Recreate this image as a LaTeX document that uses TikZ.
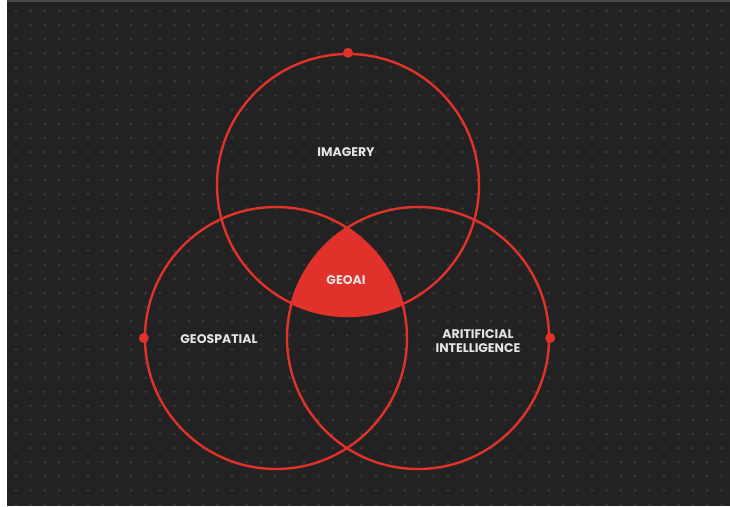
\documentclass[tikz,border=0pt]{standalone}
\usepackage{fontspec}
\setmainfont{Poppins}
\definecolor{board}{HTML}{222222}
\definecolor{boardedge}{HTML}{4A4A4A}
\definecolor{speck}{HTML}{383838}
\definecolor{geored}{HTML}{E0322A}
\definecolor{labeltext}{HTML}{E4E4E4}
\tikzset{
  ring/.style={circle, draw=geored, line width=2.4pt, minimum size=262pt, inner sep=0pt},
  knob/.style={circle, fill=geored, inner sep=0pt, minimum size=10pt},
  tag/.style={text=labeltext, font=\bfseries\fontsize{12.5}{14}\selectfont, align=center}
}
\begin{document}
\begin{tikzpicture}[x=1pt, y=-1pt]
    \useasboundingbox (0,0) rectangle (730,506);
    \fill[white] (0,0) rectangle (730,506);
    \fill[board] (7,0) rectangle (730,506);
    \fill[boardedge] (7,0) rectangle (730,2);
    % dotted backdrop
    \foreach \x in {16,30.4,...,730}
      \foreach \y in {11,25.1,...,506}
        \fill[speck] (\x,\y) circle (1.6pt);

    % shared middle part
    \begin{scope}
      \clip (348,185) circle (131pt);
      \clip (276,338) circle (131pt);
      \fill[geored] (418,338) circle (131pt);
    \end{scope}

    \node[ring] (imagery) at (348,185) {};
    \node[ring] (geospatial) at (276,338) {};
    \node[ring] (intel) at (418,338) {};

    \node[knob] at (imagery.north) {};
    \node[knob] at (geospatial.west) {};
    \node[knob] at (intel.east) {};

    \node[tag] (imagerytext) at (346,152) {IMAGERY};
    \node[tag] (geoaitext) at (346,280) {GEOAI};
    \node[tag] (geospatialtext) at (219,339) {GEOSPATIAL};
    \node[tag] (inteltext) at (478,341) {ARITIFICIAL\\INTELLIGENCE};
\end{tikzpicture}
\end{document}
